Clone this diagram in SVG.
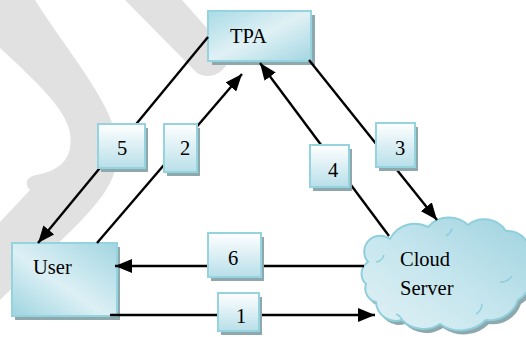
<svg xmlns="http://www.w3.org/2000/svg" width="526" height="337" viewBox="0 0 526 337">
<style>
.t{font-family:"Liberation Serif","Times New Roman",serif;font-size:20.5px;fill:#000}
.sh{fill:#8ea9ae}
.main{stroke:#95d3df;stroke-width:2}
.lbl{fill:url(#lblG);stroke:#95d3df;stroke-width:2}
.c{stroke:#000;stroke-width:2.4;fill:none;marker-end:url(#ah)}
.wm{fill:#e1e1e1}
</style>
<defs>
<linearGradient id="lblG" x1="0" y1="0" x2="0" y2="1">
<stop offset="0" stop-color="#ffffff"/>
<stop offset="1" stop-color="#b8dfe9"/>
</linearGradient>
<linearGradient id="mainG" x1="0" y1="0" x2="1" y2="1">
<stop offset="0" stop-color="#a9dbe6"/>
<stop offset="0.5" stop-color="#e0f1f5"/>
<stop offset="1" stop-color="#a3d6e2"/>
</linearGradient>
<linearGradient id="userG" x1="0" y1="1" x2="1" y2="0">
<stop offset="0" stop-color="#9fd4e0"/>
<stop offset="0.45" stop-color="#dcf0f5"/>
<stop offset="1" stop-color="#a2d5e1"/>
</linearGradient>
<linearGradient id="cloudG" x1="0" y1="1" x2="1" y2="0">
<stop offset="0" stop-color="#e2f2f6"/>
<stop offset="0.5" stop-color="#c4e5ed"/>
<stop offset="1" stop-color="#9ed2df"/>
</linearGradient>
<marker id="ah" markerUnits="userSpaceOnUse" markerWidth="17" markerHeight="14" refX="17" refY="7" orient="auto">
<path d="M0,0 L17,7 L0,14 Z" fill="#000"/>
</marker>
<path id="cloudP" d="M368,262 A16,16 0 0 1 390,239 A28,28 0 0 1 428,227 A28,28 0 0 1 468,225 A26,26 0 0 1 506,231 A22,22 0 0 1 528,262 A28,28 0 0 1 518,300 A30,30 0 0 1 486,320 A36,36 0 0 1 440,324 A30,30 0 0 1 402,320 A20,20 0 0 1 376,302 A14,14 0 0 1 366,284 A14,14 0 0 1 368,262 Z"/>
</defs>
<g id="watermark">
<path class="wm" d="M0,0 L35,0 C70,55 110,100 117,140 C122,178 100,200 80,222 L0,300 L0,222 L30,190 C24,184 26,177 36,175 C58,171 74,160 70,133 C66,110 40,85 0,48 Z"/>
<path class="wm" d="M125,0 L182,0 L228,52 L228,62 C222,76 205,80 196,72 Z"/>
</g>
<g id="tpa">
<rect class="sh" x="212" y="15" width="103" height="50"/>
<rect class="main" x="208" y="11" width="103" height="50" fill="url(#mainG)"/>
<text class="t" x="230" y="43">TPA</text>
</g>
<g id="user">
<rect class="sh" x="15" y="247" width="105" height="73"/>
<rect class="main" x="12" y="243" width="105" height="73" fill="url(#userG)"/>
<text class="t" x="33" y="274">User</text>
</g>
<g id="cloud">
<use href="#cloudP" transform="translate(3,4)" class="sh"/>
<use href="#cloudP" fill="url(#cloudG)" stroke="#8fcfdd" stroke-width="2"/>
<path d="M376,262 A10,10 0 0 0 384,255 M446,236 A12,12 0 0 0 452,228 M500,282 A14,14 0 0 0 512,276 M476,314 A12,12 0 0 0 482,304 M396,314 A10,10 0 0 1 402,320" fill="none" stroke="#8fcfdd" stroke-width="1.5"/>
<text class="t" x="400" y="266">Cloud</text>
<text class="t" x="400" y="295">Server</text>
</g>
<g id="connectors">
<path class="c" d="M208,37 L38,243"/>
<path class="c" d="M97,243 L242,74"/>
<path class="c" d="M389,236 L260,63"/>
<path class="c" d="M309,60 L437,220"/>
<path class="c" d="M364,266 L115,266"/>
<path class="c" d="M110,315 L375,315"/>
</g>
<g id="label5">
<rect class="sh" x="101" y="128" width="47" height="44"/>
<rect class="lbl" x="98" y="124" width="47" height="44"/>
<text class="t" x="117" y="155">5</text>
</g>
<g id="label2">
<rect class="sh" x="167" y="128" width="33" height="48"/>
<rect class="lbl" x="164" y="124" width="33" height="48"/>
<text class="t" x="180" y="155">2</text>
</g>
<g id="label4">
<rect class="sh" x="313" y="149" width="39" height="42"/>
<rect class="lbl" x="310" y="145" width="39" height="42"/>
<text class="t" x="328" y="177">4</text>
</g>
<g id="label3">
<rect class="sh" x="379" y="127" width="39" height="44"/>
<rect class="lbl" x="376" y="123" width="39" height="44"/>
<text class="t" x="395" y="155">3</text>
</g>
<g id="label6">
<rect class="sh" x="211" y="237" width="53" height="44"/>
<rect class="lbl" x="208" y="233" width="53" height="44"/>
<text class="t" x="228" y="265">6</text>
</g>
<g id="label1">
<rect class="sh" x="221" y="297" width="41" height="38"/>
<rect class="lbl" x="218" y="293" width="41" height="38"/>
<text class="t" x="236" y="323">1</text>
</g>
</svg>
